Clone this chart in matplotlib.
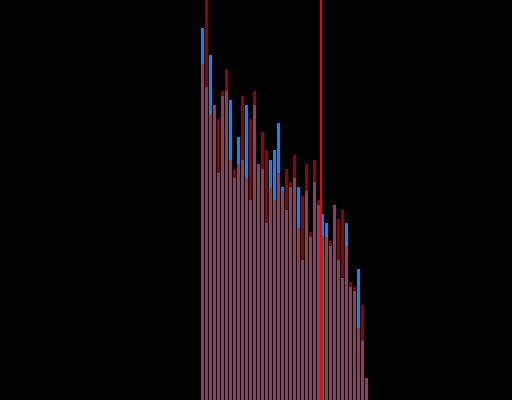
import numpy as np
import matplotlib
matplotlib.use("Agg")
import matplotlib.pyplot as plt

# bar heights per bin
blue_counts = [372, 313, 345, 295, 227, 304, 309, 300, 222, 263, 240, 295, 200, 295,
               236, 231, 177, 240, 250, 277, 213, 190, 213, 222, 213, 140, 209, 163,
               218, 195, 186, 177, 154, 195, 140, 122, 177, 113, 109, 131, 59, 22]
red_counts = [336, 420, 286, 295, 281, 309, 331, 240, 231, 236, 304, 222, 281, 309,
              236, 268, 250, 213, 200, 227, 209, 231, 218, 245, 172, 204, 236, 168,
              240, 200, 163, 163, 159, 195, 181, 190, 154, 118, 113, 72, 95, 22]
marker_bin = 29.5

bins = np.arange(len(blue_counts))

fig = plt.figure(figsize=(5.12, 4.0), dpi=100, facecolor="black")
ax = fig.add_axes([0, 0, 1, 1])
ax.set_facecolor("black")

ax.bar(bins, blue_counts, width=0.75, color="#008cff", linewidth=0)
ax.bar(bins, red_counts, width=0.75, color="red", alpha=0.6, linewidth=0)
ax.axvline(marker_bin, color="red", linewidth=1.4)

ax.set_xlim(-50.625, 77.375)
ax.set_ylim(0, 400)
ax.axis("off")

fig.savefig("out.png", dpi=100, facecolor="black")
